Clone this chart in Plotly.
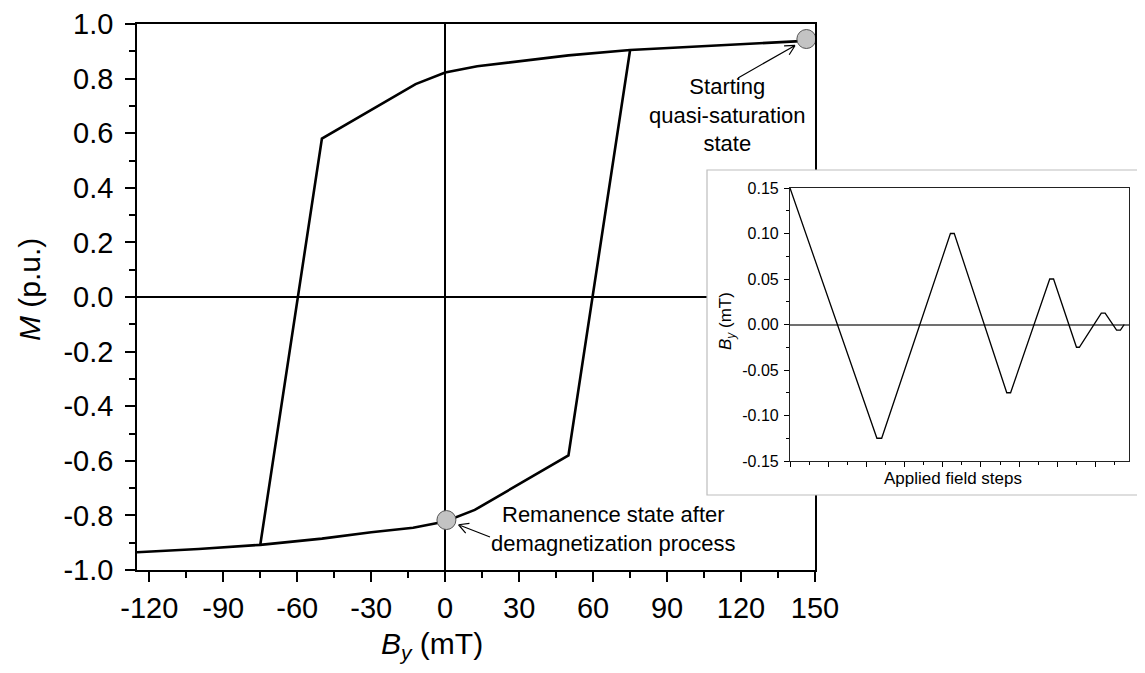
import math
import plotly.graph_objects as go

OFF = 8                       # page body margin of the browser
W, H = 1145 - OFF, 673 - OFF  # figure size that fits the window
FONT = "Liberation Sans, Arial, sans-serif"

# ---------------- data ----------------
upper_x = [150, 100, 75, 50, 30, 13, 0, -12, -50, -75]
upper_y = [0.94, 0.918, 0.905, 0.885, 0.862, 0.845, 0.822, 0.78, 0.58, -0.908]
lower_x = [-125, -100, -75, -50, -30, -13, 0, 12, 50, 75]
lower_y = [-0.935, -0.923, -0.908, -0.885, -0.862, -0.845, -0.822, -0.78, -0.58, 0.905]

state_x = [146.5, 0.5]
state_y = [0.945, -0.817]

steps = [0, 4.55, 4.8, 8.4, 8.6, 11.35, 11.55, 13.6, 13.8, 15.0, 15.15, 16.3, 16.5, 17.1, 17.3, 17.5]
field = [0.15, -0.125, -0.125, 0.1, 0.1, -0.075, -0.075, 0.05, 0.05, -0.025, -0.025,
         0.0125, 0.0125, -0.00625, -0.00625, 0.0]

main_xticks = [-120, -90, -60, -30, 0, 30, 60, 90, 120, 150]
main_xlabels = ["-120", "-90", "-60", "-30", "0", "30", "60", "90", "120", "150"]
main_yticks = [-1.0, -0.8, -0.6, -0.4, -0.2, 0.0, 0.2, 0.4, 0.6, 0.8, 1.0]
main_ylabels = ["-1.0", "-0.8", "-0.6", "-0.4", "-0.2", "0.0", "0.2", "0.4", "0.6", "0.8", "1.0"]
inset_yticks = [-0.15, -0.10, -0.05, 0.0, 0.05, 0.10, 0.15]
inset_ylabels = ["-0.15", "-0.10", "-0.05", "0.00", "0.05", "0.10", "0.15"]

# ---------------- layout geometry (window pixels) ----------------
MAIN = dict(l=137, r=815, t=24, b=570)
BOX = dict(l=707, r=1145, t=170, b=495)
INS = dict(l=790, r=1129, t=188, b=461)
XR_MAIN = [-125, 150]
YR_MAIN = [-1.0, 1.0]


def px(x, y):
    return min(max((x - OFF) / W, 0), 1), min(max(1 - (y - OFF) / H, 0), 1)


def dom_x(g):
    return [px(g["l"], 0)[0], px(g["r"], 0)[0]]


def dom_y(g):
    return [px(0, g["b"])[1], px(0, g["t"])[1]]


def data2px(x, y):
    X = MAIN["l"] + (x - XR_MAIN[0]) / (XR_MAIN[1] - XR_MAIN[0]) * (MAIN["r"] - MAIN["l"])
    Y = MAIN["b"] - (y - YR_MAIN[0]) / (YR_MAIN[1] - YR_MAIN[0]) * (MAIN["b"] - MAIN["t"])
    return X, Y


def arrow_path(tail, center, gap=13, head=11, ang=28):
    ux, uy = tail[0] - center[0], tail[1] - center[1]
    n = math.hypot(ux, uy)
    ux, uy = ux / n, uy / n
    tip = (center[0] + gap * ux, center[1] + gap * uy)
    parts = []
    a, b = px(*tail)
    c, d = px(*tip)
    parts.append(f"M{a},{b} L{c},{d}")
    for s in (1, -1):
        t = math.radians(ang * s)
        rx = ux * math.cos(t) - uy * math.sin(t)
        ry = ux * math.sin(t) + uy * math.cos(t)
        e, f = px(tip[0] + head * rx, tip[1] + head * ry)
        parts.append(f"M{c},{d} L{e},{f}")
    return " ".join(parts)


fig = go.Figure()

# main hysteresis curve
fig.add_trace(go.Scatter(x=upper_x, y=upper_y, mode="lines",
                         line=dict(color="black", width=2.6), xaxis="x", yaxis="y",
                         showlegend=False, hoverinfo="skip"))
fig.add_trace(go.Scatter(x=lower_x, y=lower_y, mode="lines",
                         line=dict(color="black", width=2.6), xaxis="x", yaxis="y",
                         showlegend=False, hoverinfo="skip"))
fig.add_trace(go.Scatter(x=state_x, y=state_y, mode="markers",
                         marker=dict(size=19, color="#c3c3c3", line=dict(color="#555555", width=1)),
                         xaxis="x", yaxis="y", showlegend=False, cliponaxis=False, hoverinfo="skip"))

# white box behind the inset (covers the main plot)
fig.add_trace(go.Scatter(x=[0], y=[0], mode="markers", marker=dict(opacity=0),
                         xaxis="x2", yaxis="y2", showlegend=False, hoverinfo="skip"))

# inset
fig.add_trace(go.Scatter(x=steps, y=field, mode="lines",
                         line=dict(color="black", width=1.3), xaxis="x3", yaxis="y3",
                         showlegend=False, hoverinfo="skip"))

tickfont = dict(family=FONT, size=29, color="black")
small = dict(family=FONT, size=16, color="black")

fig.update_layout(
    width=W, height=H, template="none",
    margin=dict(l=0, r=0, t=0, b=0, autoexpand=False),
    paper_bgcolor="white", plot_bgcolor="white",
    showlegend=False,
    xaxis=dict(domain=dom_x(MAIN), range=XR_MAIN, showgrid=False, automargin=False,
               tickmode="array", tickvals=main_xticks, ticktext=main_xlabels,
               ticks="outside", ticklen=10, tickwidth=1.5, tickcolor="black",
               minor=dict(tickvals=[v + 15 for v in main_xticks] + [-135], ticks="outside",
                          ticklen=6, tickwidth=1.5, tickcolor="black", showgrid=False),
               showline=True, linecolor="black", linewidth=1.6, mirror=True,
               zeroline=True, zerolinecolor="black", zerolinewidth=1.5,
               tickfont=tickfont, ticklabelstandoff=1, anchor="y"),
    yaxis=dict(domain=dom_y(MAIN), range=YR_MAIN, showgrid=False, automargin=False,
               tickmode="array", tickvals=main_yticks, ticktext=main_ylabels,
               ticks="outside", ticklen=10, tickwidth=1.5, tickcolor="black",
               minor=dict(tickvals=[round(v + 0.1, 2) for v in main_yticks[:-1]], ticks="outside",
                          ticklen=6, tickwidth=1.5, tickcolor="black", showgrid=False),
               showline=True, linecolor="black", linewidth=1.6, mirror=True,
               zeroline=True, zerolinecolor="black", zerolinewidth=1.5,
               tickfont=tickfont, ticklabelstandoff=6, anchor="x"),
    xaxis2=dict(domain=dom_x(BOX), range=[0, 1], visible=False, anchor="y2", fixedrange=True),
    yaxis2=dict(domain=dom_y(BOX), range=[0, 1], visible=False, anchor="x2", fixedrange=True),
    xaxis3=dict(domain=dom_x(INS), range=[0, 17.75], showgrid=False, automargin=False,
                dtick=2, tick0=0, showticklabels=False,
                ticks="outside", ticklen=5, tickwidth=1, tickcolor="black",
                minor=dict(dtick=1, tick0=0, ticks="outside", ticklen=3, tickwidth=1,
                           tickcolor="black", showgrid=False),
                showline=True, linecolor="#222222", linewidth=1.2, mirror=True,
                zeroline=False, anchor="y3"),
    yaxis3=dict(domain=dom_y(INS), range=[-0.15, 0.15], showgrid=False, automargin=False,
                tickmode="array", tickvals=inset_yticks, ticktext=inset_ylabels,
                ticks="outside", ticklen=5, tickwidth=1, tickcolor="black",
                minor=dict(tickvals=[round(v + 0.025, 3) for v in inset_yticks[:-1]], ticks="outside",
                           ticklen=3, tickwidth=1, tickcolor="black", showgrid=False),
                showline=True, linecolor="#222222", linewidth=1.2, mirror=True,
                zeroline=True, zerolinecolor="#707070", zerolinewidth=1.5,
                tickfont=small, ticklabelstandoff=2, anchor="x3"),
)

ann = []


def add_text(text, x, y, size, angle=0, align="center"):
    a, b = px(x, y)
    ann.append(dict(text=text, x=a, y=b, xref="paper", yref="paper", showarrow=False,
                    xanchor="center", yanchor="middle", textangle=angle, align=align,
                    font=dict(family=FONT, size=size, color="black")))


add_text("<i>M</i> (p.u.)", 30, 290, 30, angle=-90)
add_text("<i>B</i><sub><i>y</i></sub> (mT)", 432, 645, 30)
add_text("<i>B</i><sub><i>y</i></sub> (mT)", 727, 321, 17, angle=-90)
add_text("Applied field steps", 953, 479, 17)
add_text("Starting<br>quasi-saturation<br>state", 727, 115, 22)
add_text("Remanence state after<br>demagnetization process", 613, 529, 22)
fig.update_layout(annotations=ann)

# box border (left/top/bottom) and arrows
shapes = []
a0, b0 = px(BOX["l"], BOX["b"])
a1, b1 = px(BOX["l"], BOX["t"])
a2, b2 = px(BOX["r"], BOX["t"])
a3, b3 = px(BOX["r"], BOX["b"])
shapes.append(dict(type="path", xref="paper", yref="paper", layer="above",
                   path=f"M{a3},{b3} L{a0},{b0} L{a1},{b1} L{a2},{b2}",
                   line=dict(color="#bdbdbd", width=1.2)))
c1 = data2px(state_x[0], state_y[0])
c2 = data2px(state_x[1], state_y[1])
shapes.append(dict(type="path", xref="paper", yref="paper", layer="above",
                   path=arrow_path((738, 78), c1), line=dict(color="black", width=1.2)))
shapes.append(dict(type="path", xref="paper", yref="paper", layer="above",
                   path=arrow_path((490, 537), c2), line=dict(color="black", width=1.2)))
fig.update_layout(shapes=shapes)

fig.write_html("out.html")
